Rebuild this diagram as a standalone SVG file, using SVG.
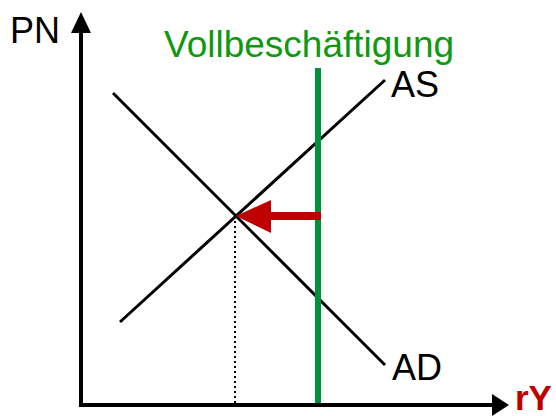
<svg xmlns="http://www.w3.org/2000/svg" width="556" height="416" viewBox="0 0 556 416">
<style>
.t{font-family:"Liberation Sans",Arial,sans-serif;font-size:36px;fill:#000}
.ln{stroke:#000;stroke-width:3;fill:none}
</style>
<rect width="556" height="416" fill="#fff"/>
<g id="connectors">
<line class="ln" x1="113" y1="93" x2="385" y2="365"/>
<line class="ln" x1="120" y1="322" x2="385" y2="80"/>
<line x1="235" y1="216" x2="235" y2="403" stroke="#000" stroke-width="2" stroke-dasharray="2,3"/>
<line x1="318" y1="68" x2="318" y2="405" stroke="#00913f" stroke-width="6"/>
<line x1="81" y1="30" x2="81" y2="405" stroke="#000" stroke-width="4"/>
<polygon points="81,12 71,33 91,33" fill="#000"/>
<line x1="79" y1="405" x2="494" y2="405" stroke="#000" stroke-width="4"/>
<polygon points="509,405 492,394 492,416" fill="#000"/>
<rect x="268" y="212" width="53" height="8" fill="#c00000"/>
<polygon points="236,216 271,200 271,233" fill="#c00000"/>
</g>
<g id="labels">
<text class="t" x="10" y="43">PN</text>
<text class="t" x="164" y="57" style="fill:#0f990f;font-size:37px">Vollbeschäftigung</text>
<text class="t" x="391" y="97">AS</text>
<text class="t" x="392" y="380">AD</text>
<text class="t" x="515" y="410" style="fill:#c00000;font-weight:bold;font-size:35px">rY</text>
</g>
</svg>
